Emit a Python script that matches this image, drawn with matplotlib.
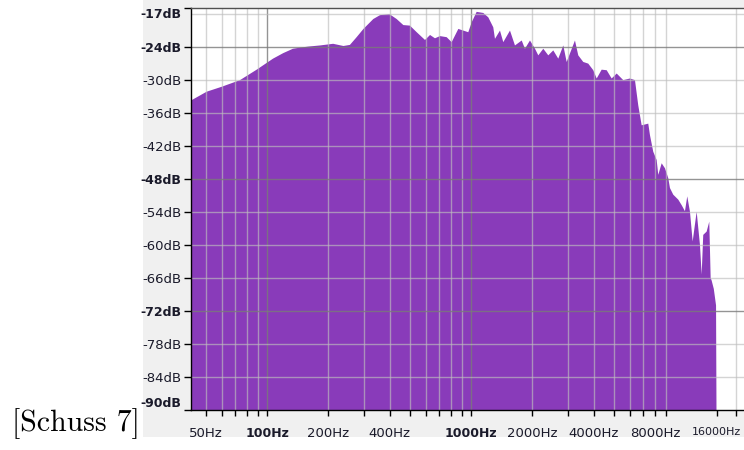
import matplotlib
matplotlib.use('Agg')
import matplotlib.pyplot as plt
from matplotlib.patches import Rectangle
from matplotlib.ticker import FixedLocator, NullFormatter

# ---- data ----
freq_hz = [42.4, 50.6, 60, 73.7, 89, 107, 120, 134, 145, 160, 182, 211, 237, 255, 275, 297,
           332, 358, 398, 432, 466, 502, 542, 595, 630, 666, 705, 760, 804, 867, 917, 970,
           1008, 1066, 1149, 1216, 1286, 1311, 1387, 1440, 1553, 1643, 1773, 1839, 1946,
           2060, 2138, 2262, 2393, 2532, 2679, 2835, 2945, 3234, 3357, 3552, 3758, 3977,
           4133, 4372, 4627, 4895, 5180, 5580, 6017, 6367, 6609, 6737, 6868, 7398, 7542,
           7827, 8133, 8282, 8607, 8933, 9272, 9452, 9810, 10380, 10785, 11194, 11490,
           11846, 12212, 12775, 13260, 13517, 13762, 14301, 14731, 14962, 15132, 15500,
           15900, 15980]
level_db = [-33.8, -32.2, -31.3, -30.1, -28.2, -26.2, -25.2, -24.4, -24.2, -24.0, -23.8, -23.5,
            -23.9, -23.7, -22.3, -20.8, -19.0, -18.3, -18.1, -19.0, -20.1, -20.2, -21.4,
            -22.8, -21.9, -22.5, -22.1, -22.3, -23.2, -20.8, -21.1, -21.4, -19.6, -17.7,
            -17.9, -18.7, -20.5, -22.6, -21.1, -23.2, -21.1, -23.8, -22.9, -24.4, -22.9,
            -24.4, -25.6, -24.4, -25.6, -24.7, -26.2, -23.8, -26.8, -22.9, -25.6, -26.8,
            -27.1, -28.3, -29.8, -28.2, -28.3, -29.8, -28.9, -30.1, -29.8, -30.1, -34.7,
            -36.5, -38.3, -38.0, -40.1, -43.1, -44.6, -47.3, -45.2, -46.1, -47.9, -49.7,
            -50.9, -51.8, -52.8, -53.9, -51.2, -54.0, -59.4, -54.0, -60.0, -65.4, -58.2,
            -57.6, -55.8, -66.0, -66.5, -68.0, -71.0, -90.0]

y_tick_values = [-17, -24, -30, -36, -42, -48, -54, -60, -66, -72, -78, -84, -90]
y_tick_labels = ['-17dB', '-24dB', '-30dB', '-36dB', '-42dB', '-48dB', '-54dB',
                 '-60dB', '-66dB', '-72dB', '-78dB', '-84dB', '-90dB']
y_bold = [-17, -24, -48, -72, -90]

x_tick_values = [50, 100, 200, 400, 1000, 2000, 4000, 8000, 16000]
x_tick_labels = ['50Hz', '100Hz', '200Hz', '400Hz', '1000Hz', '2000Hz', '4000Hz',
                 '8000Hz', '16000Hz']
x_bold = [100, 1000]
x_minor_ticks = [60, 70, 80, 90, 300, 500, 600, 700, 800, 900, 3000, 5000, 6000,
                 7000, 9000, 20000]

x_grid_minor = [50, 60, 70, 80, 90, 200, 300, 400, 500, 600, 700, 800, 900,
                2000, 3000, 4000, 5000, 6000, 7000, 8000, 9000, 20000]
x_grid_major = [100, 1000]
y_grid_minor = [-18, -30, -36, -42, -54, -60, -66, -78, -84]
y_grid_major = [-24, -48, -72]

# ---- styling ----
W, H = 744, 450
purple = '#893BBA'
text_col = '#1a1a2a'
fs = 9.5

fig = plt.figure(figsize=(W / 100, H / 100), dpi=100)
fig.patches.append(Rectangle((143 / W, 1 - 437 / H), 1 - 143 / W, 437 / H,
                             transform=fig.transFigure, facecolor='#f0f0f0',
                             edgecolor='none', zorder=-10))

ax = fig.add_axes([191 / W, 1 - 410 / H, 553 / W, 402 / H])
ax.set_facecolor('white')
ax.set_xscale('log')
ax.set_xlim(42.4, 21800)
ax.set_ylim(-90, -17)

ax.fill_between(freq_hz, level_db, -100, color=purple, lw=0, zorder=1)

for f in x_grid_minor:
    ax.axvline(f, color='#bebebe', alpha=0.65, lw=1.0, zorder=2)
for f in x_grid_major:
    ax.axvline(f, color='#7a7a7a', alpha=0.8, lw=1.0, zorder=2)
for v in y_grid_minor:
    ax.axhline(v, color='#bebebe', alpha=0.65, lw=1.0, zorder=2)
for v in y_grid_major:
    ax.axhline(v, color='#7a7a7a', alpha=0.8, lw=1.0, zorder=2)

for s in ['left', 'bottom']:
    ax.spines[s].set_color('#000000')
    ax.spines[s].set_linewidth(1.0)
ax.spines['top'].set_color('#505050')
ax.spines['top'].set_linewidth(1.0)
ax.spines['right'].set_visible(False)
for s in ax.spines.values():
    s.set_zorder(3)

ax.set_yticks(y_tick_values)
ax.set_yticklabels(y_tick_labels)
ax.set_xticks(x_tick_values)
ax.set_xticklabels(x_tick_labels)
ax.xaxis.set_minor_locator(FixedLocator(x_minor_ticks))
ax.xaxis.set_minor_formatter(NullFormatter())

ax.tick_params(axis='y', length=5, width=1, pad=2, labelsize=fs, labelcolor=text_col)
ax.tick_params(axis='x', which='both', length=4, width=1, pad=8, labelsize=fs,
               labelcolor=text_col)

for lab, v in zip(ax.get_yticklabels(), y_tick_values):
    if v in y_bold:
        lab.set_fontweight('bold')
        lab.set_fontsize(fs - 0.5)
    if v == -17:
        lab.set_verticalalignment('top')
    if v == -90:
        lab.set_verticalalignment('bottom')
for lab, v in zip(ax.get_xticklabels(), x_tick_values):
    if v in x_bold:
        lab.set_fontweight('bold')
        lab.set_fontsize(fs - 0.5)
    if v == 16000:
        lab.set_fontsize(fs - 1.5)

fig.text(12 / W, 1 - 431 / H, '[Schuss 7]', family='cmr10', fontsize=21.5,
         va='baseline', ha='left', color='black')

fig.savefig('out.png', dpi=100)
